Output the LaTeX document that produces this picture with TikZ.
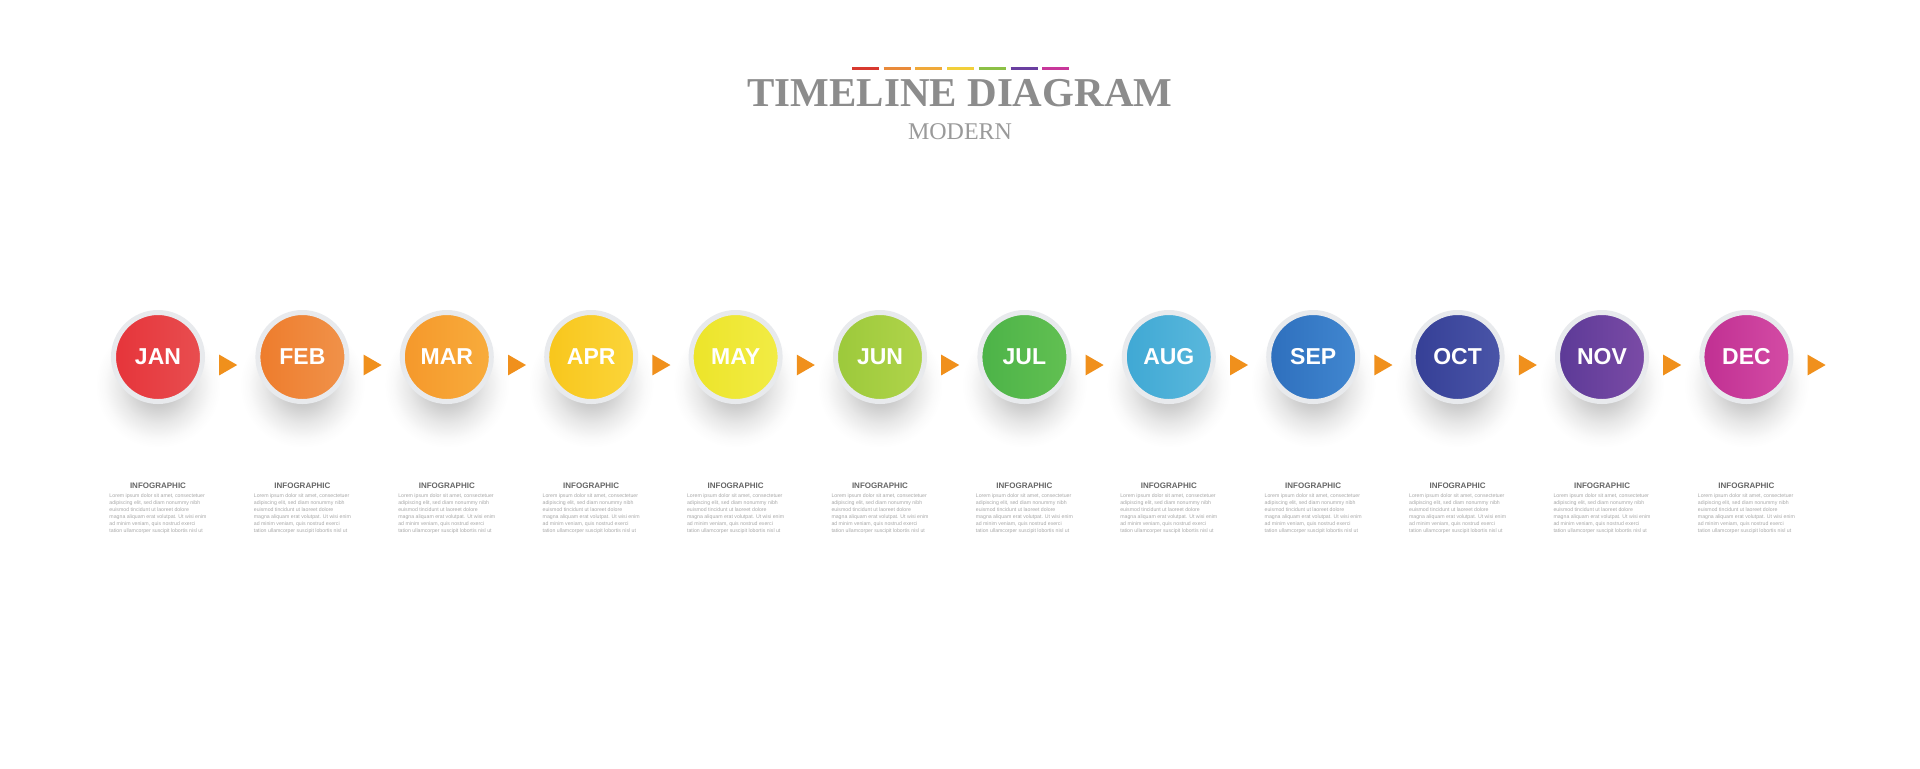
\documentclass[tikz,border=0pt]{standalone}
\usepackage{xcolor}
\usepackage{fontspec}
\setmainfont{Liberation Serif}
\newfontfamily\labelfont{Liberation Sans}
\usepackage{tikz}
\usetikzlibrary{positioning,calc,shapes.geometric,backgrounds}

\definecolor{TitleGray}{HTML}{8C8C8C}
\definecolor{SubGray}{HTML}{9A9A9A}
\definecolor{HeadGray}{HTML}{666666}
\definecolor{BodyGray}{HTML}{A8A8A8}
\definecolor{RingGray}{HTML}{E8EAED}
\definecolor{TipOrange}{HTML}{F0901C}

\pgfdeclareradialshading{SoftShade}{\pgfpoint{0bp}{0bp}}{color(0bp)=(black!27); color(8bp)=(black!20); color(15bp)=(black!9); color(21bp)=(black!2); color(24.5bp)=(white); color(50bp)=(white)}

\newcommand{\loremtext}{Lorem ipsum dolor sit amet, consectetuer\\
adipiscing elit, sed diam nonummy nibh\\
euismod tincidunt ut laoreet dolore\\
magna aliquam erat volutpat. Ut wisi enim\\
ad minim veniam, quis nostrud exerci\\
tation ullamcorper suscipit lobortis nisl ut}

\tikzset{
  MonthNode/.style = {circle, minimum size=44.5pt, inner sep=0pt, outer sep=0pt,
                      draw=RingGray, line width=2.5pt, text=white,
                      font=\labelfont\bfseries\fontsize{11.5}{11.5}\selectfont},
  ShadowSpot/.style = {circle, minimum size=64pt, inner sep=0pt, shading=SoftShade},
  ArrowTip/.style = {regular polygon, regular polygon sides=3, shape border rotate=-90,
                     fill=TipOrange, inner sep=0pt, minimum size=12pt},
  HeadText/.style = {text=HeadGray, inner sep=0pt,
                     font=\labelfont\bfseries\fontsize{4}{4}\selectfont},
  BodyText/.style = {text=BodyGray, inner sep=0pt, align=left,
                     font=\labelfont\fontsize{2.6}{3.5}\selectfont},
  TitleText/.style = {text=TitleGray, inner sep=0pt, font=\bfseries\fontsize{20.5}{20.5}\selectfont},
  SubText/.style = {text=SubGray, inner sep=0pt, font=\fontsize{12}{12}\selectfont},
  Dash/.style = {line width=1.5pt},
}

\begin{document}
\begin{tikzpicture}[x=0.5pt, y=-0.5pt, node distance=27.7pt]
  \useasboundingbox (0,0) rectangle (1920,768);

  % title
  \draw[Dash, color={rgb,255:red,216;green,57;blue,47}]   (852,68) -- ++(27,0);
  \draw[Dash, color={rgb,255:red,233;green,138;blue,58}]  (883.7,68) -- ++(27,0);
  \draw[Dash, color={rgb,255:red,240;green,169;blue,58}]  (915.4,68) -- ++(27,0);
  \draw[Dash, color={rgb,255:red,242;green,207;blue,58}]  (947.1,68) -- ++(27,0);
  \draw[Dash, color={rgb,255:red,140;green,192;blue,70}]  (978.8,68) -- ++(27,0);
  \draw[Dash, color={rgb,255:red,106;green,63;blue,160}]  (1010.5,68) -- ++(27,0);
  \draw[Dash, color={rgb,255:red,200;green,55;blue,154}]  (1042.2,68) -- ++(27,0);
  \node[TitleText] (title) at (960,93) {TIMELINE DIAGRAM};
  \node[SubText] (sub) at (960,132) {MODERN};

  % months
  \node[MonthNode, left color={rgb,255:red,230;green,52;blue,58}, right color={rgb,255:red,232;green,78;blue,80}] (jan) at (158,357) {JAN};
  \node[MonthNode, right=of jan, left color={rgb,255:red,238;green,124;blue,44}, right color={rgb,255:red,240;green,146;blue,74}] (feb) {FEB};
  \node[MonthNode, right=of feb, left color={rgb,255:red,245;green,152;blue,43}, right color={rgb,255:red,248;green,172;blue,60}] (mar) {MAR};
  \node[MonthNode, right=of mar, left color={rgb,255:red,248;green,198;blue,28}, right color={rgb,255:red,251;green,213;blue,58}] (apr) {APR};
  \node[MonthNode, right=of apr, left color={rgb,255:red,236;green,228;blue,41}, right color={rgb,255:red,242;green,236;blue,69}] (may) {MAY};
  \node[MonthNode, right=of may, left color={rgb,255:red,156;green,201;blue,59}, right color={rgb,255:red,176;green,212;blue,74}] (jun) {JUN};
  \node[MonthNode, right=of jun, left color={rgb,255:red,76;green,179;blue,72}, right color={rgb,255:red,98;green,192;blue,82}] (jul) {JUL};
  \node[MonthNode, right=of jul, left color={rgb,255:red,63;green,168;blue,212}, right color={rgb,255:red,90;green,184;blue,220}] (aug) {AUG};
  \node[MonthNode, right=of aug, left color={rgb,255:red,46;green,111;blue,189}, right color={rgb,255:red,65;green,135;blue,208}] (sep) {SEP};
  \node[MonthNode, right=of sep, left color={rgb,255:red,53;green,63;blue,150}, right color={rgb,255:red,74;green,85;blue,168}] (oct) {OCT};
  \node[MonthNode, right=of oct, left color={rgb,255:red,92;green,58;blue,151}, right color={rgb,255:red,123;green,75;blue,166}] (nov) {NOV};
  \node[MonthNode, right=of nov, left color={rgb,255:red,192;green,47;blue,146}, right color={rgb,255:red,212;green,76;blue,165}] (dec) {DEC};

  % soft shadows under the circles
  \begin{pgfonlayer}{background}
    \fill[white] (0,0) rectangle (1920,768);
    \node[ShadowSpot] (jans) at ($(jan)+(0,28)$) {};
    \node[ShadowSpot] (febs) at ($(feb)+(0,28)$) {};
    \node[ShadowSpot] (mars) at ($(mar)+(0,28)$) {};
    \node[ShadowSpot] (aprs) at ($(apr)+(0,28)$) {};
    \node[ShadowSpot] (mays) at ($(may)+(0,28)$) {};
    \node[ShadowSpot] (juns) at ($(jun)+(0,28)$) {};
    \node[ShadowSpot] (juls) at ($(jul)+(0,28)$) {};
    \node[ShadowSpot] (augs) at ($(aug)+(0,28)$) {};
    \node[ShadowSpot] (seps) at ($(sep)+(0,28)$) {};
    \node[ShadowSpot] (octs) at ($(oct)+(0,28)$) {};
    \node[ShadowSpot] (novs) at ($(nov)+(0,28)$) {};
    \node[ShadowSpot] (decs) at ($(dec)+(0,28)$) {};
  \end{pgfonlayer}

  % arrow tips
  \node[ArrowTip] (t1) at ($(jan)!0.5!(feb)+(-5,8)$) {};
  \node[ArrowTip] (t2) at ($(feb)!0.5!(mar)+(-5,8)$) {};
  \node[ArrowTip] (t3) at ($(mar)!0.5!(apr)+(-5,8)$) {};
  \node[ArrowTip] (t4) at ($(apr)!0.5!(may)+(-5,8)$) {};
  \node[ArrowTip] (t5) at ($(may)!0.5!(jun)+(-5,8)$) {};
  \node[ArrowTip] (t6) at ($(jun)!0.5!(jul)+(-5,8)$) {};
  \node[ArrowTip] (t7) at ($(jul)!0.5!(aug)+(-5,8)$) {};
  \node[ArrowTip] (t8) at ($(aug)!0.5!(sep)+(-5,8)$) {};
  \node[ArrowTip] (t9) at ($(sep)!0.5!(oct)+(-5,8)$) {};
  \node[ArrowTip] (t10) at ($(oct)!0.5!(nov)+(-5,8)$) {};
  \node[ArrowTip] (t11) at ($(nov)!0.5!(dec)+(-5,8)$) {};
  \node[ArrowTip] (t12) at ($(dec)+(67.2,8)$) {};

  % text blocks
  \node[HeadText] (janh) at ($(jan)+(0,129)$) {INFOGRAPHIC};
  \node[BodyText, below=2pt of janh] (janb) {\loremtext};
  \node[HeadText] (febh) at ($(feb)+(0,129)$) {INFOGRAPHIC};
  \node[BodyText, below=2pt of febh] (febb) {\loremtext};
  \node[HeadText] (marh) at ($(mar)+(0,129)$) {INFOGRAPHIC};
  \node[BodyText, below=2pt of marh] (marb) {\loremtext};
  \node[HeadText] (aprh) at ($(apr)+(0,129)$) {INFOGRAPHIC};
  \node[BodyText, below=2pt of aprh] (aprb) {\loremtext};
  \node[HeadText] (mayh) at ($(may)+(0,129)$) {INFOGRAPHIC};
  \node[BodyText, below=2pt of mayh] (mayb) {\loremtext};
  \node[HeadText] (junh) at ($(jun)+(0,129)$) {INFOGRAPHIC};
  \node[BodyText, below=2pt of junh] (junb) {\loremtext};
  \node[HeadText] (julh) at ($(jul)+(0,129)$) {INFOGRAPHIC};
  \node[BodyText, below=2pt of julh] (julb) {\loremtext};
  \node[HeadText] (augh) at ($(aug)+(0,129)$) {INFOGRAPHIC};
  \node[BodyText, below=2pt of augh] (augb) {\loremtext};
  \node[HeadText] (seph) at ($(sep)+(0,129)$) {INFOGRAPHIC};
  \node[BodyText, below=2pt of seph] (sepb) {\loremtext};
  \node[HeadText] (octh) at ($(oct)+(0,129)$) {INFOGRAPHIC};
  \node[BodyText, below=2pt of octh] (octb) {\loremtext};
  \node[HeadText] (novh) at ($(nov)+(0,129)$) {INFOGRAPHIC};
  \node[BodyText, below=2pt of novh] (novb) {\loremtext};
  \node[HeadText] (dech) at ($(dec)+(0,129)$) {INFOGRAPHIC};
  \node[BodyText, below=2pt of dech] (decb) {\loremtext};
\end{tikzpicture}
\end{document}
